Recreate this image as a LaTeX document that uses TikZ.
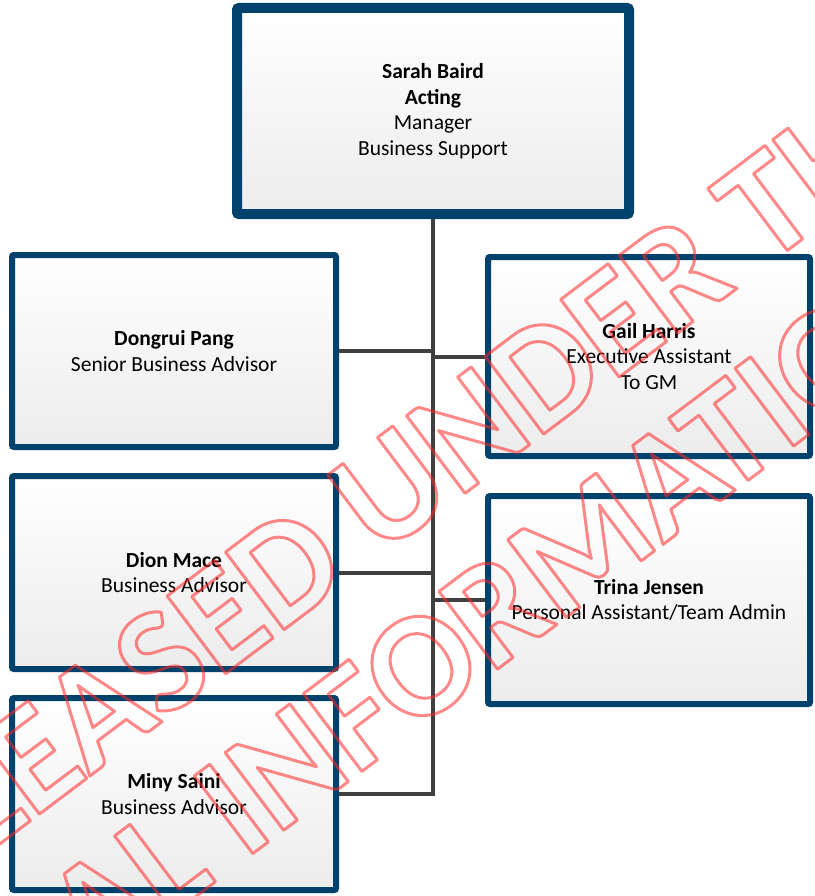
\documentclass[tikz,border=0pt]{standalone}
\usepackage{fontspec}
\setmainfont{Carlito}
\usetikzlibrary{shadows}
\definecolor{boxblue}{RGB}{0,66,107}
\definecolor{linegray}{RGB}{64,64,64}
\definecolor{fillgray}{RGB}{236,236,236}
\definecolor{markred}{RGB}{255,40,40}
\tikzset{
  staff/.style = { draw=boxblue, line width=6pt, rounded corners=2pt,
                   top color=white, bottom color=fillgray,
                   drop shadow={shadow xshift=3pt, shadow yshift=-3pt,
                                fill=black!25, opacity=.4},
                   align=center, inner sep=0pt, minimum width=324pt,
                   font=\fontsize{21.5}{25.5}\selectfont },
  chief/.style = { staff, line width=10pt },
   link/.style = { line width=4pt, color=linegray },
  stamp/.style = { rotate=37, inner sep=0pt, text=markred,
                   font=\bfseries\fontsize{150}{155}\selectfont }
}
\newcommand*{\outlined}[1]{%
  \special{pdf:literal direct 1 Tr 3 w 1 j}#1\special{pdf:literal direct 0 Tr}}

\begin{document}
\begin{tikzpicture}[x=1pt, y=-1pt]
  \useasboundingbox (0,0) rectangle (814,896);
  \node[chief, minimum width=392pt, minimum height=206pt] (baird) at (433,111)
    {\textbf{Sarah Baird}\\\textbf{Acting}\\Manager\\Business Support};
  \node[staff, minimum height=192pt] (pang) at (174,351)
    {\textbf{Dongrui Pang}\\Senior Business Advisor};
  \node[staff, minimum width=322pt, minimum height=199pt] (harris) at (649,356.5)
    {\textbf{Gail Harris}\\Executive Assistant\\To GM};
  \node[staff, minimum height=193pt] (mace) at (174,572.5)
    {\textbf{Dion Mace}\\Business Advisor};
  \node[staff, minimum width=322pt, minimum height=208pt] (jensen) at (649,600)
    {\textbf{Trina Jensen}\\Personal Assistant/Team Admin};
  \node[staff, minimum height=192pt] (saini) at (174,794)
    {\textbf{Miny Saini}\\Business Advisor};

  % reporting lines
  \draw[link] (baird.south) -- (baird.south |- saini.east) -- (saini.east);
  \foreach \n in {pang,mace}
    \draw[link] (\n.east) -- (\n.east -| baird.south);
  \foreach \n in {harris,jensen}
    \draw[link] (\n.west) -- (\n.west -| baird.south);

  % release stamp
  \begin{scope}[draw opacity=.55]
    \node[stamp] (released) at (378,498) {\outlined{RELEASED UNDER THE}};
    \node[stamp] (official) at (458,638) {\outlined{OFFICIAL INFORMATION ACT}};
  \end{scope}
\end{tikzpicture}
\end{document}
